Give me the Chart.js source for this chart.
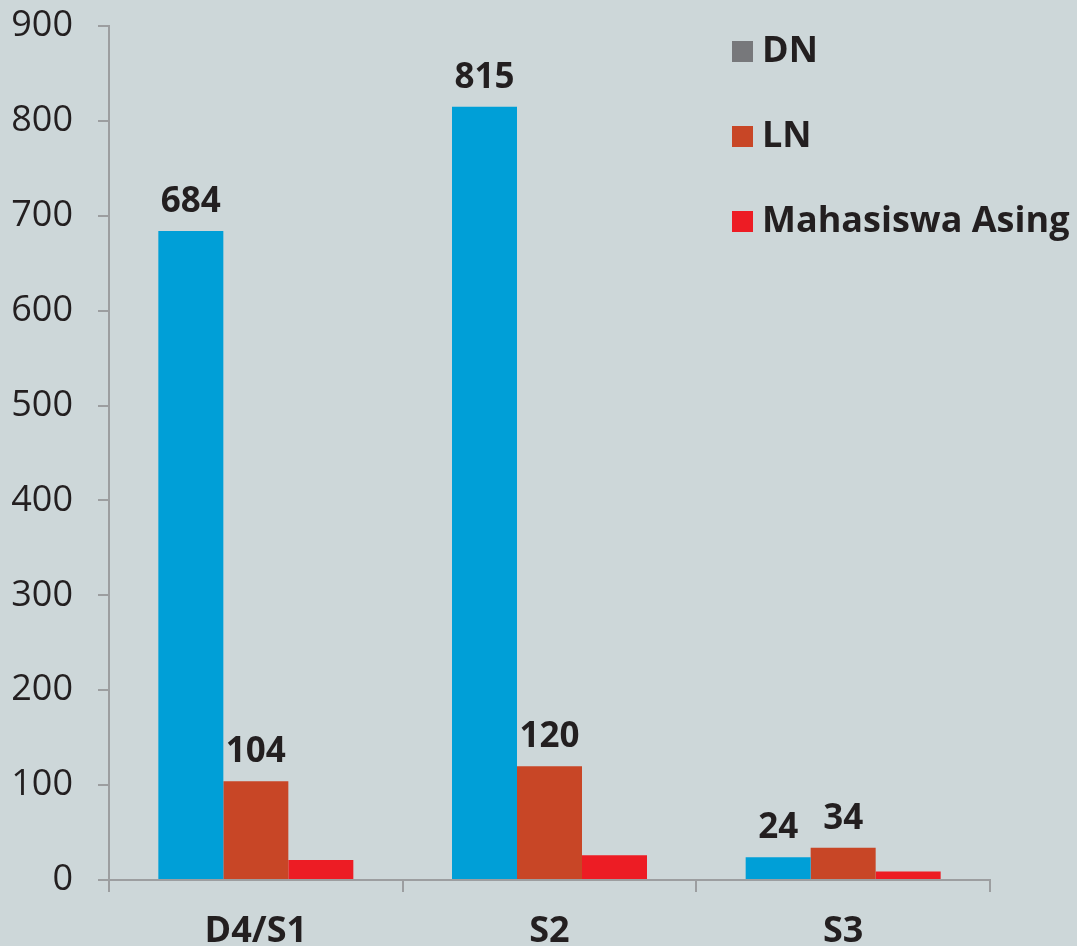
<!DOCTYPE html>
<html>
<head>
  <meta charset="utf-8">
  <script src="https://cdn.jsdelivr.net/npm/chart.js@4.4.0/dist/chart.umd.min.js"></script>
  <style>
    html, body { margin: 0; padding: 0; overflow: hidden; background: #cdd7d9; }
    canvas { display: block; }
  </style>
</head>
<body>
  <canvas id="studentChart" width="1077" height="962"></canvas>

  <script>
    const categories = ['D4/S1', 'S2', 'S3'];
    const seriesNames = ['DN', 'LN', 'Mahasiswa Asing'];
    const dnValues = [684, 815, 24];
    const lnValues = [104, 120, 34];
    const asingValues = [21, 26, 9];
    const yTicks = [0, 100, 200, 300, 400, 500, 600, 700, 800, 900];

    const barColors = ['#009fd7', '#c84626', '#ed1c24'];
    const legendColors = ['#77787b', '#c84626', '#ed1c24'];
    const textColor = '#231f20';
    const axisColor = '#9c9ea0';
    const fontFamily = '"Open Sans", "DejaVu Sans", sans-serif';

    // value labels above the DN and LN bars
    const valueLabels = {
      id: 'valueLabels',
      afterDatasetsDraw(chart) {
        const ctx = chart.ctx;
        ctx.save();
        ctx.fillStyle = textColor;
        ctx.font = 'bold 35px ' + fontFamily;
        ctx.textAlign = 'center';
        ctx.textBaseline = 'alphabetic';
        [0, 1].forEach(i => {
          const meta = chart.getDatasetMeta(i);
          meta.data.forEach((bar, j) => {
            ctx.fillText(chart.data.datasets[i].data[j], bar.x, bar.y - 19);
          });
        });
        ctx.restore();
      }
    };

    // legend drawn inside the plot, top right
    const sideLegend = {
      id: 'sideLegend',
      afterDraw(chart) {
        const ctx = chart.ctx;
        ctx.save();
        ctx.font = 'bold 36px ' + fontFamily;
        ctx.textBaseline = 'middle';
        ctx.textAlign = 'left';
        chart.data.datasets.forEach((ds, i) => {
          const y = 51 + i * 85;
          ctx.fillStyle = legendColors[i];
          ctx.fillRect(732, y - 10, 21, 21);
          ctx.fillStyle = textColor;
          ctx.fillText(ds.label, 762, y + 1);
        });
        ctx.restore();
      }
    };

    const ctx = document.getElementById('studentChart').getContext('2d');

    new Chart(ctx, {
      type: 'bar',
      data: {
        labels: categories,
        datasets: [
          { label: seriesNames[0], data: dnValues, backgroundColor: barColors[0] },
          { label: seriesNames[1], data: lnValues, backgroundColor: barColors[1] },
          { label: seriesNames[2], data: asingValues, backgroundColor: barColors[2] }
        ]
      },
      options: {
        responsive: false,
        animation: false,
        layout: { padding: { top: 26, right: 87, left: 0, bottom: 0 } },
        datasets: {
          bar: { categoryPercentage: 0.664, barPercentage: 1.0 }
        },
        plugins: {
          legend: { display: false },
          tooltip: { enabled: false }
        },
        scales: {
          x: {
            afterFit: scale => { scale.height = 82; },
            grid: {
              display: true,
              drawOnChartArea: false,
              drawTicks: true,
              tickLength: 12,
              color: axisColor,
              lineWidth: 2
            },
            border: { display: true, color: axisColor, width: 2 },
            ticks: {
              color: textColor,
              font: { family: fontFamily, size: 36, weight: 'bold' },
              padding: 18
            }
          },
          y: {
            min: 0,
            max: 900,
            afterFit: scale => {
              scale.width = 109;
              scale.paddingTop = 0;
            },
            afterBuildTicks: scale => { scale.ticks = yTicks.map(v => ({ value: v })); },
            grid: {
              display: true,
              drawOnChartArea: false,
              drawTicks: true,
              tickLength: 11,
              color: axisColor,
              lineWidth: 2
            },
            border: { display: true, color: axisColor, width: 2 },
            ticks: {
              color: textColor,
              font: { family: fontFamily, size: 36 },
              padding: 25
            }
          }
        }
      },
      plugins: [valueLabels, sideLegend]
    });
  </script>
</body>
</html>
